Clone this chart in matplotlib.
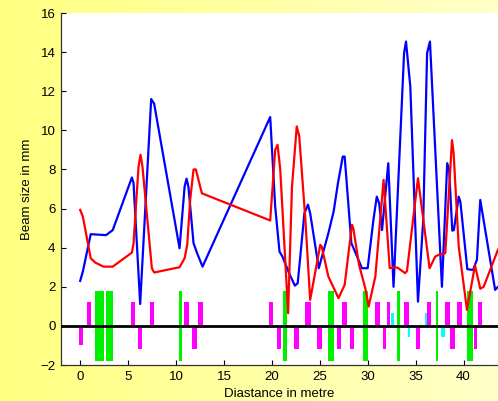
import numpy as np
import matplotlib
matplotlib.use("Agg")
import matplotlib.pyplot as plt
from matplotlib.colors import LinearSegmentedColormap

plt.rcParams['font.family'] = ['Liberation Sans', 'DejaVu Sans']

# Beam envelope along the line (metre, mm)
s_blue = [0, 0.28, 1.1, 2.7, 3.4, 5.4, 5.57, 6.26, 7.41, 7.72, 10.37, 10.9, 11.1, 11.3,
          11.83, 12.2, 12.77, 19.83, 20.35, 20.8, 21.1, 21.8, 22.4, 22.7, 23.4, 23.77,
          24.0, 24.9, 25.9, 26.45, 26.9, 27.4, 27.6, 28.3, 28.6, 29.4, 30.0, 30.6, 30.95,
          31.2, 31.5, 32.15, 32.7, 33.8, 34.0, 34.45, 35.25, 35.8, 36.2, 36.5, 37.75,
          38.3, 38.5, 38.83, 39.0, 39.5, 39.67, 40.4, 41.0, 41.4, 41.75, 43.3, 43.6]
size_blue = [2.3, 2.78, 4.69, 4.64, 4.9, 7.59, 7.3, 1.12, 11.6, 11.36, 3.97, 7.13, 7.53, 7.1,
             4.23, 3.72, 3.03, 10.68, 6.1, 3.8, 3.55, 2.7, 2.06, 2.18, 5.76, 6.2,
             5.76, 2.95, 4.74, 5.85, 7.3, 8.66, 8.66, 4.23, 3.89, 2.95, 2.95, 5.42, 6.61,
             6.27, 4.9, 8.32, 2.0, 13.95, 14.54, 12.24, 1.24, 5.42, 13.95, 14.54, 2.0,
             8.32, 7.98, 4.87, 4.9, 6.61, 6.36, 2.9, 2.86, 3.38, 6.44, 1.84, 2.0]

s_red = [0, 0.28, 1.1, 1.57, 2.43, 3.4, 5.4, 5.57, 6.09, 6.3, 6.5, 7.48, 7.72, 10.37, 10.9,
         11.17, 11.48, 11.83, 12.07, 12.7, 19.83, 20.35, 20.6, 20.88, 21.7, 22.1, 22.6,
         22.86, 23.5, 24.0, 25.05, 25.2, 25.9, 26.96, 27.6, 28.36, 28.5, 29.1, 29.75,
         30.1, 30.8, 31.66, 32.3, 32.9, 33.2, 33.9, 34.1, 35.25, 36.46, 37.06, 37.4,
         38.1, 38.8, 38.97, 39.5, 40.36, 41.2, 41.75, 42.1, 43.6]
size_red = [5.93, 5.59, 3.46, 3.24, 3.03, 3.03, 3.75, 4.23, 8.15, 8.75, 8.15, 2.95, 2.73, 3.0, 3.46,
            4.14, 6.44, 8.0, 8.0, 6.78, 5.39, 9.0, 9.26, 7.98, 0.65, 7.1, 10.2,
            9.7, 5.42, 1.33, 4.14, 4.06, 2.52, 1.42, 2.1, 5.17, 5.0, 3.12, 1.93,
            0.99, 2.52, 7.47, 2.95, 3.0, 2.95, 2.7, 2.8, 7.55, 2.95, 3.55, 3.63,
            3.72, 9.5, 8.83, 4.06, 0.82, 3.1, 1.9, 2.0, 3.9]

# Lattice elements: position, length, vertical extent
quad_s = [2.0, 3.07, 10.45, 21.4, 26.2, 29.8, 33.25, 37.25, 40.7]
quad_len = [1.0, 0.7, 0.28, 0.45, 0.63, 0.5, 0.28, 0.28, 0.6]
quad_top = 1.8
quad_bottom = -1.8

mag_s = [0.1, 0.95, 5.5, 6.25, 7.5, 11.1, 11.9, 12.55, 19.9, 20.7, 22.6, 23.8, 25.0,
         27.0, 27.6, 28.4, 31.05, 31.75, 32.15, 34.05, 35.25, 36.4, 38.35, 38.85,
         39.55, 41.27, 41.72]
mag_len = [0.4, 0.45, 0.42, 0.42, 0.42, 0.55, 0.55, 0.5, 0.38, 0.42, 0.55, 0.6, 0.5,
           0.45, 0.5, 0.42, 0.5, 0.4, 0.35, 0.5, 0.4, 0.45, 0.5, 0.5,
           0.5, 0.35, 0.35]
mag_h = [-1.0, 1.2, 1.2, -1.2, 1.2, 1.2, -1.2, 1.2, 1.2, -1.2, -1.2, 1.2, -1.2,
         -1.2, 1.2, -1.2, 1.2, -1.2, 1.2, 1.2, -1.2, 1.2, 1.2, -1.2,
         1.2, -1.2, 1.2]

cyan_s = [32.6, 34.35, 36.1, 37.9]
cyan_len = [0.3, 0.22, 0.22, 0.4]
cyan_h = [0.65, -0.58, 0.65, -0.58]

xticks = [0, 5, 10, 15, 20, 25, 30, 35, 40]
yticks = [-2, 0, 2, 4, 6, 8, 10, 12, 14, 16]

fig = plt.figure(figsize=(4.98, 4.01), dpi=100)

# Yellow gradient backdrop
bg = fig.add_axes([0, 0, 1, 1])
bg.axis('off')
grad = np.linspace(0, 1, 256).reshape(1, -1)
cmap = LinearSegmentedColormap.from_list('backdrop', ['#FFFF80', '#FFFFC8'])
bg.imshow(grad, aspect='auto', cmap=cmap, extent=[0, 1, 0, 1])

ax = fig.add_axes([61 / 498, 36 / 401, 437 / 498, 352 / 401])
ax.set_facecolor('white')

ax.bar(quad_s, quad_top - quad_bottom, width=quad_len, bottom=quad_bottom,
       color='#00F000', zorder=2)
ax.bar(mag_s, mag_h, width=mag_len, color='#FF00FF', zorder=2)
ax.bar(cyan_s, cyan_h, width=cyan_len, color='#00FFFF', zorder=2)
ax.axhline(0, color='black', lw=2, zorder=3)

ax.plot(s_blue, size_blue, color='#0000FF', lw=1.6, zorder=4)
ax.plot(s_red, size_red, color='#FF0000', lw=1.6, zorder=5)

ax.set_xlim(-2, 43.6)
ax.set_ylim(-2, 16)
ax.set_xticks(xticks)
ax.set_yticks(yticks)
ax.tick_params(direction='in', length=3.5, width=0.8, labelsize=9.5, pad=4)
for side in ('top', 'right'):
    ax.spines[side].set_visible(False)
for side in ('left', 'bottom'):
    ax.spines[side].set_color('#333333')
    ax.spines[side].set_linewidth(0.9)

ax.set_xlabel('Diastance in metre', fontsize=9.5, labelpad=4)
ax.set_ylabel('Beam size in mm', fontsize=9.5, labelpad=5)

fig.savefig('out.png', dpi=100)
